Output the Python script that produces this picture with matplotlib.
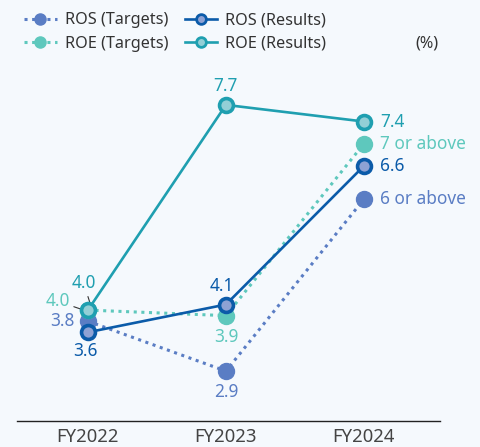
import matplotlib.pyplot as plt
from matplotlib.lines import Line2D

plt.rcParams['font.family'] = ['Noto Sans', 'DejaVu Sans']

years = ['FY2022', 'FY2023', 'FY2024']
ros_targets = [3.8, 2.9, 6.0]
ros_results = [3.6, 4.1, 6.6]
roe_targets = [4.0, 3.9, 7.0]
roe_results = [4.0, 7.7, 7.4]

c_ros_t = '#5a7dc4'
c_ros_r = '#0b5ba9'
c_roe_t = '#5ec8bd'
c_roe_r = '#1f9fb0'
bg = '#f5f9fd'

fig = plt.figure(figsize=(4.81, 4.47), dpi=100, facecolor=bg)
ax = fig.add_axes([0.0353, 0.0582, 0.8794, 0.8076], facecolor=bg)
x = list(range(len(years)))

dot = (0, (1, 1.5))
ax.plot(x, ros_targets, color=c_ros_t, lw=2.2, ls=dot, marker='o', ms=11.5,
        mfc=c_ros_t, mec=c_ros_t, zorder=3)
ax.plot(x, roe_targets, color=c_roe_t, lw=2.2, ls=dot, marker='o', ms=11.5,
        mfc=c_roe_t, mec=c_roe_t, zorder=4)
ax.plot(x, ros_results, color=c_ros_r, lw=1.9, marker='o', ms=10,
        mfc='#8ea2d4', mec=c_ros_r, mew=2.6, zorder=5)
ax.plot(x, roe_results, color=c_roe_r, lw=1.9, marker='o', ms=10,
        mfc='#93cfd6', mec=c_roe_r, mew=2.6, zorder=6)

ax.set_xlim(-0.514, 2.551)
ax.set_ylim(2.0, 8.51)
for s in ['top', 'left', 'right']:
    ax.spines[s].set_visible(False)
ax.spines['bottom'].set_color('#222222')
ax.spines['bottom'].set_linewidth(1.0)
ax.set_yticks([])
ax.set_xticks(x)
ax.set_xticklabels(years, fontsize=13.3, color='#444444')
ax.tick_params(axis='x', length=0, pad=5)

fs = 12.4
# FY2022 labels, two of them with leader lines
ax.annotate(f'{roe_results[0]:.1f}', xy=(0.025, roe_results[0] + 0.05), xytext=(-0.03, roe_results[0] + 0.48),
            ha='center', va='center', fontsize=fs, color=c_roe_r, zorder=2,
            arrowprops=dict(arrowstyle='-', color='#333333', lw=0.8, shrinkA=1, shrinkB=0))
ax.annotate(f'{roe_targets[0]:.1f}', xy=(-0.03, roe_targets[0] + 0.0), xytext=(-0.22, roe_targets[0] + 0.16),
            ha='center', va='center', fontsize=fs, color=c_roe_t, zorder=2,
            arrowprops=dict(arrowstyle='-', color='#333333', lw=0.8, shrinkA=1, shrinkB=0))
ax.text(-0.10, ros_targets[0], f'{ros_targets[0]:.1f}', ha='right', va='center', fontsize=fs, color=c_ros_t)
ax.text(-0.02, ros_results[0] - 0.33, f'{ros_results[0]:.1f}', ha='center', va='center', fontsize=fs, color=c_ros_r)

# FY2023 labels
ax.text(1 - 0.03, ros_results[1] + 0.33, f'{ros_results[1]:.1f}', ha='center', va='center', fontsize=fs, color=c_ros_r)
ax.text(1, roe_targets[1] - 0.38, f'{roe_targets[1]:.1f}', ha='center', va='center', fontsize=fs, color=c_roe_t)
ax.text(1, ros_targets[1] - 0.38, f'{ros_targets[1]:.1f}', ha='center', va='center', fontsize=fs, color=c_ros_t)
ax.text(1, roe_results[1] + 0.34, f'{roe_results[1]:.1f}', ha='center', va='center', fontsize=fs, color=c_roe_r)

# FY2024 labels
ax.text(2.12, roe_results[2], f'{roe_results[2]:.1f}', ha='left', va='center', fontsize=fs, color=c_roe_r, fontweight='bold')
ax.text(2.12, roe_targets[2], '7 or above', ha='left', va='center', fontsize=fs, color=c_roe_t, fontweight='medium')
ax.text(2.12, ros_results[2], f'{ros_results[2]:.1f}', ha='left', va='center', fontsize=fs, color=c_ros_r, fontweight='bold')
ax.text(2.12, ros_targets[2], '6 or above', ha='left', va='center', fontsize=fs, color=c_ros_t, fontweight='medium')

handles = [
    Line2D([], [], color=c_ros_t, lw=2.2, ls=dot, marker='o', ms=8, mfc=c_ros_t, mec=c_ros_t),
    Line2D([], [], color=c_roe_t, lw=2.2, ls=dot, marker='o', ms=8, mfc=c_roe_t, mec=c_roe_t),
    Line2D([], [], color=c_ros_r, lw=1.9, marker='o', ms=7, mfc='#8ea2d4', mec=c_ros_r, mew=2),
    Line2D([], [], color=c_roe_r, lw=1.9, marker='o', ms=7, mfc='#93cfd6', mec=c_roe_r, mew=2),
]
labels = ['ROS (Targets)', 'ROE (Targets)', 'ROS (Results)', 'ROE (Results)']
fig.legend(handles, labels, ncol=2, loc='upper left', bbox_to_anchor=(0.02, 1.005),
           frameon=False, fontsize=11.7, handlelength=2.0, handletextpad=0.5,
           columnspacing=1.0, labelspacing=0.45, labelcolor='#333333')
fig.text(0.912, 0.903, '(%)', ha='right', va='center', fontsize=11.7, color='#333333')

fig.savefig('out.png', dpi=100, facecolor=bg)
